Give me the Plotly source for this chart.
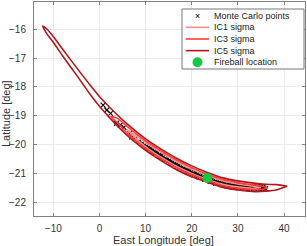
import plotly.graph_objects as go

# ---- data ----
# IC5 sigma contour (upper and lower edge)
ic5_lon = [-12.3, -11.5, -10, -8, -5, -2, 0, 2, 4, 6, 8, 10, 12, 14.5, 17, 20, 23.4, 27, 30, 33, 36, 38.5, 40.65]
ic5_up = [-15.88, -15.97, -16.25, -16.685, -17.32, -17.94, -18.33, -18.67, -18.99, -19.28, -19.55, -19.8,
          -20.02, -20.27, -20.5, -20.74, -20.97, -21.165, -21.26, -21.33, -21.38, -21.39, -21.45]
ic5_lo = [-15.88, -16.13, -16.45, -16.915, -17.58, -18.26, -18.67, -19.03, -19.37, -19.68, -19.95, -20.2,
          -20.42, -20.67, -20.9, -21.12, -21.31, -21.495, -21.58, -21.63, -21.62, -21.57, -21.45]

# IC3 sigma contour
ic3_lon = [2.5, 4, 6, 8, 10, 12, 14.5, 17, 20, 23.4, 27, 30, 33, 35, 36.5]
ic3_up = [-19.02, -19.1, -19.37, -19.63, -19.87, -20.08, -20.33, -20.56, -20.8, -21.03, -21.22, -21.32, -21.39, -21.44, -21.5]
ic3_lo = [-19.02, -19.26, -19.6, -19.88, -20.13, -20.35, -20.6, -20.83, -21.05, -21.25, -21.44, -21.52, -21.56, -21.56, -21.5]

# IC1 sigma contour
ic1_lon = [6, 8, 10, 12, 14.5, 17, 20, 23.4, 27, 30, 33, 35]
ic1_up = [-19.48, -19.7, -19.93, -20.14, -20.39, -20.62, -20.86, -21.07, -21.27, -21.37, -21.44, -21.5]
ic1_lo = [-19.48, -19.8, -20.07, -20.3, -20.55, -20.78, -21.0, -21.21, -21.39, -21.47, -21.52, -21.5]

# Monte Carlo points
mc_lon = [0.8, 1.6, 2.4, 3.7, 4.5, 5.3, 6.6, 7.0, 7.8, 8.6, 9.3,
          9.8, 10.2, 10.6, 11.0, 11.4, 11.8, 12.2, 12.6, 13.0, 13.4, 13.8, 14.2, 14.6, 15.0, 15.4, 15.8, 16.2,
          16.6, 17.0, 17.4, 17.8, 18.2, 18.6, 19.0, 19.4, 19.8, 20.2, 20.6, 21.0, 21.4, 21.8, 22.2, 22.6,
          23.0, 23.8, 24.2, 24.6, 25.0, 25.4, 25.8, 26.2, 26.6, 27.0, 27.5, 28.0, 28.5, 29.0, 29.5, 30.0,
          30.5, 31.0, 31.5, 32.0, 32.5, 33.0, 33.5, 34.0, 34.4, 34.8, 35.2, 35.6, 36.0, 34.6, 35.4,
          10.8, 12.0, 13.2, 14.4, 15.6, 16.8, 18.0, 19.2, 20.4, 21.6, 22.8, 24.0, 25.2, 26.4, 27.6, 28.8,
          30.2, 31.4, 32.6,
          11.6, 13.6, 15.2, 17.2, 19.6, 21.2, 24.4, 26.8, 28.2, 29.8, 31.2, 33.2, 34.2, 35.0]
mc_lat = [-18.63, -18.8, -18.92, -19.26, -19.32, -19.4, -19.6, -19.73, -19.78, -19.88, -19.95,
          -20.02, -20.06, -20.1, -20.14, -20.2, -20.24, -20.28, -20.3,
          -20.36, -20.4, -20.44, -20.48, -20.52, -20.56, -20.6, -20.63, -20.67, -20.7, -20.74, -20.78, -20.8,
          -20.84, -20.88, -20.9, -20.93, -20.96, -20.99, -21.02, -21.05, -21.08, -21.1, -21.13, -21.15,
          -21.18, -21.22, -21.25, -21.27, -21.29, -21.31, -21.33, -21.35, -21.36, -21.38, -21.39, -21.41,
          -21.43, -21.44, -21.45, -21.46, -21.47, -21.48, -21.49, -21.5, -21.5, -21.51, -21.52, -21.5,
          -21.53, -21.5, -21.54, -21.51, -21.53, -21.47, -21.48,
          -20.16, -20.3, -20.42, -20.54, -20.66, -20.76, -20.86, -20.95, -21.04, -21.12, -21.2, -21.28,
          -21.34, -21.39, -21.43, -21.47, -21.5, -21.52, -21.53,
          -20.18, -20.38, -20.54, -20.72, -20.9, -21.02, -21.2, -21.31, -21.37, -21.41, -21.44, -21.46,
          -21.46, -21.47]

fireball_lon = [23.4]
fireball_lat = [-21.16]

x_ticks = [-10, 0, 10, 20, 30, 40]
y_ticks = [-22, -21, -20, -19, -18, -17, -16]

legend_labels = ["Monte Carlo points", "IC1 sigma", "IC3 sigma", "IC5 sigma", "Fireball location"]

# ---- colours / layout constants ----
C_IC1, C_IC3, C_IC5 = "#f3908c", "#ff3b3b", "#b3171b"
C_FIRE = "#14c846"
FONT = "Liberation Sans, Arial, sans-serif"
W, H = 307, 246
L, R, T, B = 34, 2, 2, 30
PW, PH = W - L - R, H - T - B


def px2x(px):
    return (px - L) / PW


def px2y(py):
    return (H - B - py) / PH


def closed(lon, up, lo):
    xs = list(lon) + list(reversed(lon))
    ys = list(up) + list(reversed(lo))
    return xs, ys


fig = go.Figure()
fig.add_trace(go.Scatter(x=mc_lon, y=mc_lat, mode="markers", name=legend_labels[0],
                         marker=dict(symbol="x-thin", size=5, line=dict(color="black", width=1.1))))
for name, (lon, up, lo), col in [
    (legend_labels[1], (ic1_lon, ic1_up, ic1_lo), C_IC1),
    (legend_labels[2], (ic3_lon, ic3_up, ic3_lo), C_IC3),
    (legend_labels[3], (ic5_lon, ic5_up, ic5_lo), C_IC5),
]:
    xs, ys = closed(lon, up, lo)
    fig.add_trace(go.Scatter(x=xs, y=ys, mode="lines", name=name,
                             line=dict(color=col, width=1.6, shape="spline", smoothing=0.6)))
fig.add_trace(go.Scatter(x=fireball_lon, y=fireball_lat, mode="markers", name=legend_labels[4],
                         marker=dict(symbol="circle", size=10, color=C_FIRE)))

# ---- compact legend (MATLAB style) ----
shapes = [dict(type="rect", xref="paper", yref="paper", x0=px2x(182), x1=px2x(304),
               y0=px2y(69), y1=px2y(9), fillcolor="white", line=dict(color="#777", width=1), layer="above")]
annotations = []
row_y = [15.7 + 11.65 * i for i in range(5)]
for i, lab in enumerate(legend_labels):
    yy = px2y(row_y[i])
    annotations.append(dict(x=px2x(211.7), y=yy, xref="paper", yref="paper", text=lab, showarrow=False,
                            xanchor="left", yanchor="middle", font=dict(family=FONT, size=9, color="#222")))
for i, col in zip([1, 2, 3], [C_IC1, C_IC3, C_IC5]):
    yy = px2y(row_y[i])
    shapes.append(dict(type="line", xref="paper", yref="paper", x0=px2x(185.7), x1=px2x(209),
                       y0=yy, y1=yy, line=dict(color=col, width=1.6), layer="above"))
annotations.append(dict(x=px2x(197.5), y=px2y(row_y[0]), xref="paper", yref="paper", text="×",
                        showarrow=False, xanchor="center", yanchor="middle",
                        font=dict(family=FONT, size=9, color="black")))
shapes.append(dict(type="circle", xref="paper", yref="paper", xsizemode="pixel", ysizemode="pixel",
                   xanchor=px2x(197.5), yanchor=px2y(row_y[4]), x0=-5, x1=5, y0=-5, y1=5,
                   fillcolor=C_FIRE, line=dict(width=0), layer="above"))

# axis titles
annotations.append(dict(x=px2x(163.5), y=px2y(239.5), xref="paper", yref="paper",
                        text="East Longitude [deg]", showarrow=False, xanchor="center", yanchor="middle",
                        font=dict(family=FONT, size=11, color="#333")))
annotations.append(dict(x=px2x(6.5), y=px2y(113.5), xref="paper", yref="paper",
                        text="Latitude [deg]", showarrow=False, textangle=-90,
                        xanchor="center", yanchor="middle",
                        font=dict(family=FONT, size=11, color="#333")))

axis_common = dict(showline=True, linecolor="#808080", linewidth=1, mirror="ticks",
                   ticks="inside", ticklen=3, tickcolor="#808080", automargin=False,
                   showgrid=True, gridcolor="#ebebeb", gridwidth=1, zeroline=False,
                   tickfont=dict(family=FONT, size=10, color="#333"))

fig.update_layout(
    width=W, height=H,
    margin=dict(l=L, r=R, t=T, b=B),
    paper_bgcolor="white", plot_bgcolor="white",
    font=dict(family=FONT, size=10, color="#333"),
    showlegend=False,
    shapes=shapes, annotations=annotations,
    xaxis=dict(range=[-14.18, 44.54], tickvals=x_ticks, ticklabelstandoff=3, **axis_common),
    yaxis=dict(range=[-22.48, -15.05], tickvals=y_ticks, ticklabelstandoff=5, **axis_common),
)

fig.write_html("out.html", config={"displayModeBar": False},
               post_script="document.body.style.margin='0px';document.body.style.overflow='hidden';")
